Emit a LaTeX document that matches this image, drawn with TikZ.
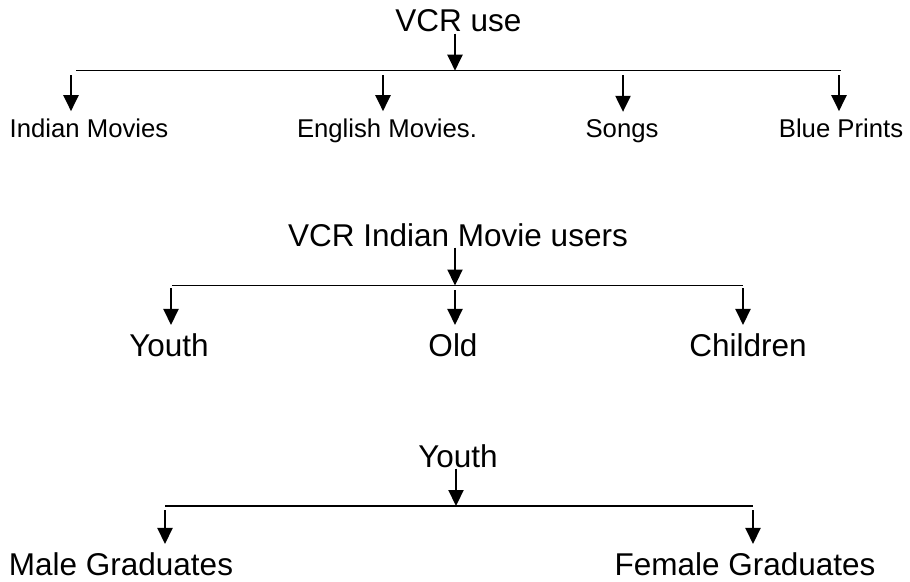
\documentclass[tikz,border=0pt]{standalone}
\usepackage{fontspec}
\setmainfont{Liberation Sans}
\usetikzlibrary{arrows.meta}
\begin{document}
\begin{tikzpicture}[x=1pt,y=-1pt,
  big/.style={inner sep=0pt,anchor=base,font=\fontsize{31.5}{36}\selectfont},
  small/.style={inner sep=0pt,anchor=base,font=\fontsize{25.7}{30}\selectfont},
  arr/.style={line width=2.2pt,-{Triangle[length=16pt,width=15pt]}},
  bar/.style={line width=1.3pt}]
\useasboundingbox (0,0) rectangle (910,581);
% ---------- Tree 1 ----------
\node[big] (vcr) at (458.5,31.5) {VCR use};
\coordinate (j1) at (455,70.7);
\coordinate (l1a) at (76,70.7);
\coordinate (l1b) at (841,70.7);
\draw[bar] (l1a) -- (l1b);
\draw[arr] (j1 |- vcr.south) ++(0,1.5) -- (j1);
\node[small] (im) at (89,137) {Indian Movies};
\node[small] (em) at (387,137) {English Movies.};
\node[small] (so) at (622,137) {Songs};
\node[small] (bp) at (841,137) {Blue Prints};
\coordinate (a1) at (71,75);
\coordinate (a2) at (383,75);
\coordinate (a3) at (623,75);
\coordinate (a4) at (839,75);
\draw[arr,shorten >=7pt] (a1) -- (a1 |- im.north);
\draw[arr,shorten >=7pt] (a2) -- (a2 |- em.north);
\draw[arr,shorten >=7pt] (a3) -- (a3 |- so.north);
\draw[arr,shorten >=7pt] (a4) -- (a4 |- bp.north);
% ---------- Tree 2 ----------
\node[big] (vim) at (458,246) {VCR Indian Movie users};
\coordinate (j2) at (455,285.5);
\coordinate (l2a) at (172,285.5);
\coordinate (l2b) at (743,285.5);
\draw[bar] (l2a) -- (l2b);
\draw[arr] (j2 |- vim.south) ++(0,1) -- (j2);
\node[big] (yo) at (169,356) {Youth};
\node[big] (ol) at (453,356) {Old};
\node[big] (ch) at (748,356) {Children};
\coordinate (b1) at (171,288);
\coordinate (b2) at (455,290);
\coordinate (b3) at (743,288);
\draw[arr,shorten >=8pt] (b1) -- (b1 |- yo.north);
\draw[arr,shorten >=8pt] (b2) -- (b2 |- ol.north);
\draw[arr,shorten >=8pt] (b3) -- (b3 |- ch.north);
% ---------- Tree 3 ----------
\node[big] (yt) at (458,467) {Youth};
\coordinate (j3) at (456,506);
\coordinate (l3a) at (165,506);
\coordinate (l3b) at (753,506);
\draw[bar] (l3a) -- (l3b);
\draw[arr] (j3 |- yt.south) ++(0,1) -- (j3);
\node[big] (mg) at (121,575) {Male Graduates};
\node[big] (fg) at (745,575) {Female Graduates};
\coordinate (c1) at (165,510);
\coordinate (c2) at (753,510);
\draw[arr,shorten >=8pt] (c1) -- (c1 |- mg.north);
\draw[arr,shorten >=8pt] (c2) -- (c2 |- fg.north);
\end{tikzpicture}
\end{document}
